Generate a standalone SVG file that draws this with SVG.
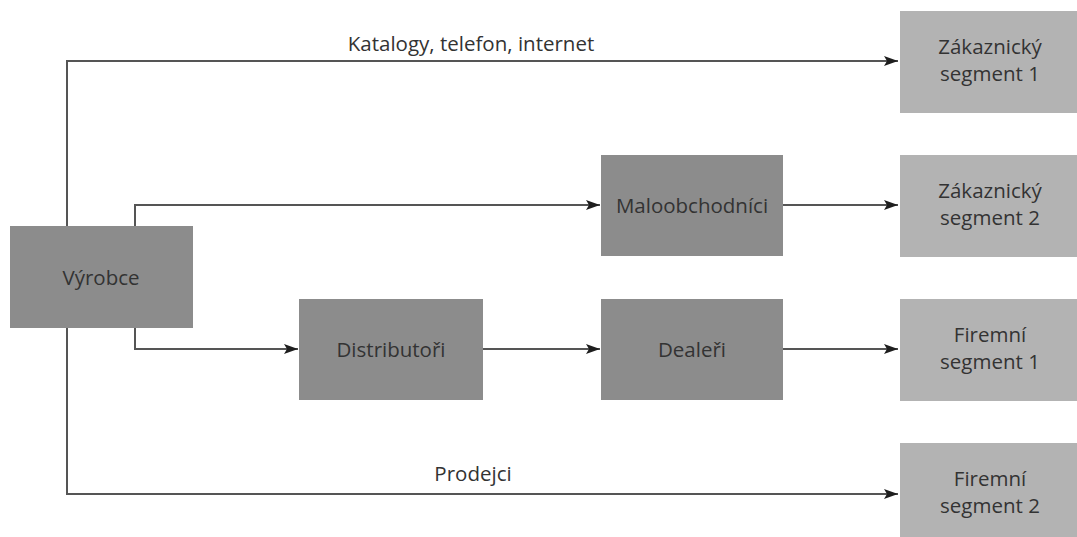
<svg xmlns="http://www.w3.org/2000/svg" width="1077" height="537" viewBox="0 0 1077 537">
<defs>
<style>
.dark{fill:#8c8c8c}
.light{fill:#b3b3b3}
.t{font-family:"Open Sans","Liberation Sans",sans-serif;font-size:20.5px;fill:#333333;text-anchor:middle}
.c{fill:none;stroke:#555555;stroke-width:2}
</style>
<marker id="ah" viewBox="0 0 14 10" refX="14" refY="5" markerWidth="14" markerHeight="10" markerUnits="userSpaceOnUse" orient="auto">
<path d="M0,0 L14,5 L0,10 L3,5 Z" fill="#1e1e1e"/>
</marker>
</defs>
<rect width="1077" height="537" fill="#ffffff"/>
<g id="connectors">
<path class="c" d="M67,226 V61 H898" marker-end="url(#ah)"/>
<path class="c" d="M135,226 V205 H600" marker-end="url(#ah)"/>
<path class="c" d="M783,205 H898" marker-end="url(#ah)"/>
<path class="c" d="M135,328 V349 H298" marker-end="url(#ah)"/>
<path class="c" d="M483,349 H600" marker-end="url(#ah)"/>
<path class="c" d="M783,349 H898" marker-end="url(#ah)"/>
<path class="c" d="M67,328 V494 H898" marker-end="url(#ah)"/>
<text class="t" x="471" y="51">Katalogy, telefon, internet</text>
<text class="t" x="473" y="481">Prodejci</text>
</g>
<g id="vyrobce">
<rect class="dark" x="10" y="226" width="183" height="102"/>
<text class="t" x="101" y="285">Výrobce</text>
</g>
<g id="maloobchodnici">
<rect class="dark" x="601" y="155" width="182" height="101"/>
<text class="t" x="692" y="213">Maloobchodníci</text>
</g>
<g id="distributori">
<rect class="dark" x="299" y="299" width="184" height="101"/>
<text class="t" x="391" y="357">Distributoři</text>
</g>
<g id="dealeri">
<rect class="dark" x="601" y="299" width="182" height="101"/>
<text class="t" x="692" y="357">Dealeři</text>
</g>
<g id="zak1">
<rect class="light" x="900" y="11" width="177" height="102"/>
<text class="t" x="990" y="54">Zákaznický</text>
<text class="t" x="990" y="81">segment 1</text>
</g>
<g id="zak2">
<rect class="light" x="900" y="155" width="177" height="102"/>
<text class="t" x="990" y="198">Zákaznický</text>
<text class="t" x="990" y="225">segment 2</text>
</g>
<g id="firm1">
<rect class="light" x="900" y="299" width="177" height="102"/>
<text class="t" x="990" y="342">Firemní</text>
<text class="t" x="990" y="369">segment 1</text>
</g>
<g id="firm2">
<rect class="light" x="900" y="443" width="177" height="102"/>
<text class="t" x="990" y="486">Firemní</text>
<text class="t" x="990" y="513">segment 2</text>
</g>
</svg>
